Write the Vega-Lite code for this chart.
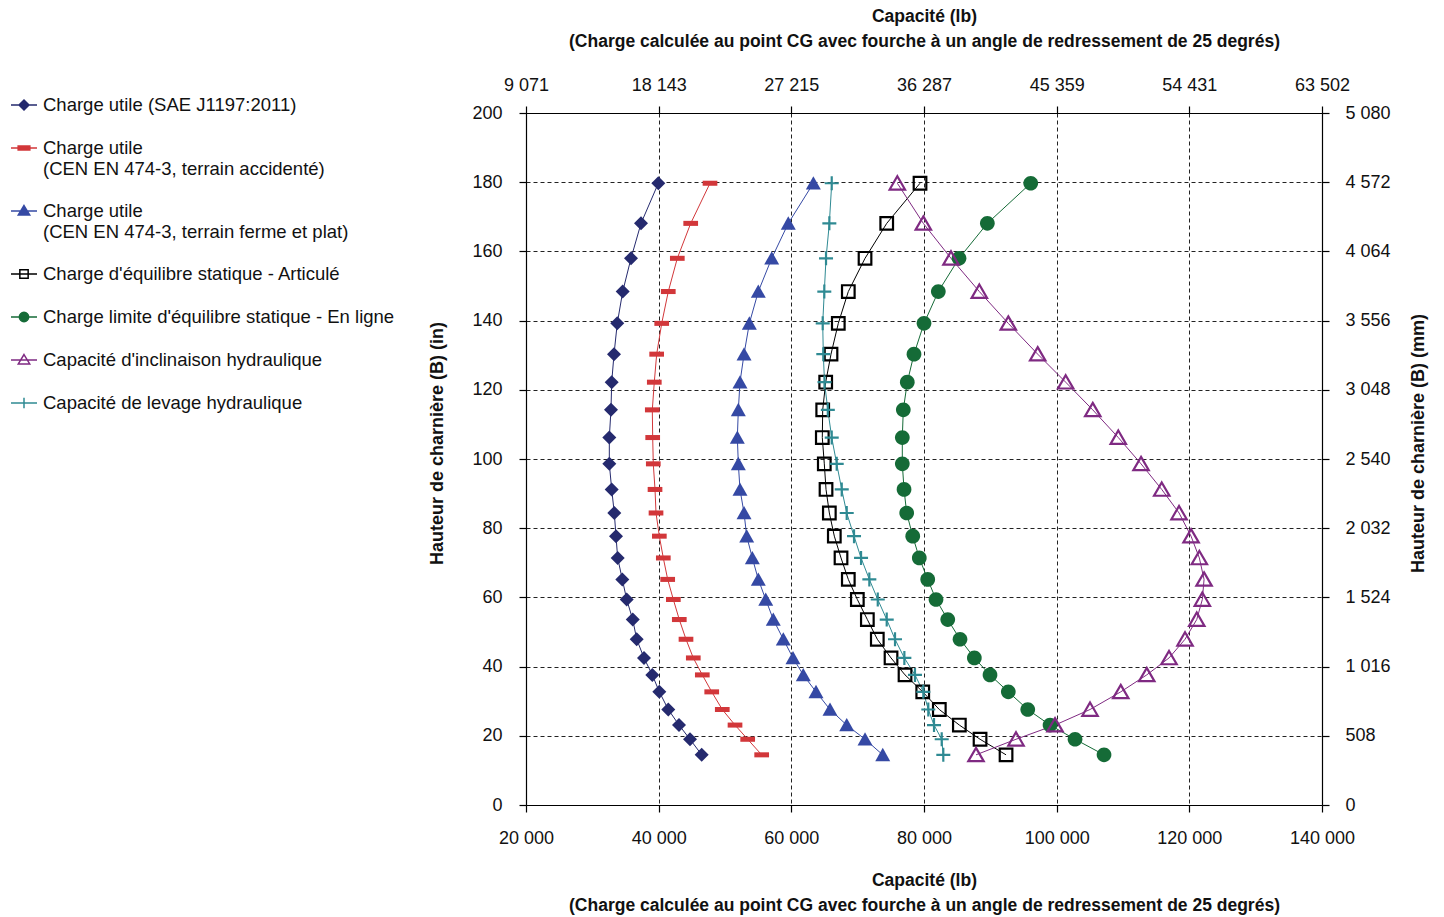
{
"$schema": "https://vega.github.io/schema/vega-lite/v6.json",
"width": 796, "height": 692,
"autosize": {"type": "none"},
"padding": {"left": 526, "top": 113, "right": 122, "bottom": 112},
"background": "white",
"config": {
  "font": "Liberation Sans, Arial, sans-serif",
  "view": {"stroke": null},
  "axis": {"domainColor": "#000", "domainWidth": 1.2, "tickColor": "#000", "tickWidth": 1.2, "tickSize": 7,
    "labelColor": "#111", "labelFontSize": 18, "labelFlush": false,
    "titleColor": "#111", "titleFontSize": 17.5, "titleFontWeight": "bold",
    "gridColor": "#222", "gridDash": [4, 3], "gridWidth": 1, "gridOpacity": 1, "labelOverlap": false}
},
"data": {"values": [
{"s":"Charge utile (SAE J1197:2011)","h":14.5,"x":46490},{"s":"Charge utile (SAE J1197:2011)","h":19,"x":44720},{"s":"Charge utile (SAE J1197:2011)","h":23.1,"x":43070},{"s":"Charge utile (SAE J1197:2011)","h":27.6,"x":41450},{"s":"Charge utile (SAE J1197:2011)","h":32.7,"x":40100},{"s":"Charge utile (SAE J1197:2011)","h":37.6,"x":39040},{"s":"Charge utile (SAE J1197:2011)","h":42.5,"x":37790},{"s":"Charge utile (SAE J1197:2011)","h":47.9,"x":36690},{"s":"Charge utile (SAE J1197:2011)","h":53.6,"x":36090},{"s":"Charge utile (SAE J1197:2011)","h":59.4,"x":35180},{"s":"Charge utile (SAE J1197:2011)","h":65.2,"x":34520},{"s":"Charge utile (SAE J1197:2011)","h":71.4,"x":33820},{"s":"Charge utile (SAE J1197:2011)","h":77.7,"x":33570},{"s":"Charge utile (SAE J1197:2011)","h":84.4,"x":33310},{"s":"Charge utile (SAE J1197:2011)","h":91.2,"x":32920},{"s":"Charge utile (SAE J1197:2011)","h":98.6,"x":32560},{"s":"Charge utile (SAE J1197:2011)","h":106.2,"x":32560},{"s":"Charge utile (SAE J1197:2011)","h":114.2,"x":32810},{"s":"Charge utile (SAE J1197:2011)","h":122.2,"x":32920},{"s":"Charge utile (SAE J1197:2011)","h":130.3,"x":33270},{"s":"Charge utile (SAE J1197:2011)","h":139.2,"x":33760},{"s":"Charge utile (SAE J1197:2011)","h":148.4,"x":34580},{"s":"Charge utile (SAE J1197:2011)","h":158,"x":35830},{"s":"Charge utile (SAE J1197:2011)","h":168.1,"x":37340},{"s":"Charge utile (SAE J1197:2011)","h":179.7,"x":39950},
{"s":"Charge utile (CEN EN 474-3, terrain accidenté)","h":14.5,"x":55530},{"s":"Charge utile (CEN EN 474-3, terrain accidenté)","h":19,"x":53420},{"s":"Charge utile (CEN EN 474-3, terrain accidenté)","h":23.1,"x":51510},{"s":"Charge utile (CEN EN 474-3, terrain accidenté)","h":27.6,"x":49590},{"s":"Charge utile (CEN EN 474-3, terrain accidenté)","h":32.7,"x":48000},{"s":"Charge utile (CEN EN 474-3, terrain accidenté)","h":37.6,"x":46580},{"s":"Charge utile (CEN EN 474-3, terrain accidenté)","h":42.5,"x":45220},{"s":"Charge utile (CEN EN 474-3, terrain accidenté)","h":47.9,"x":44120},{"s":"Charge utile (CEN EN 474-3, terrain accidenté)","h":53.6,"x":43110},{"s":"Charge utile (CEN EN 474-3, terrain accidenté)","h":59.4,"x":42210},{"s":"Charge utile (CEN EN 474-3, terrain accidenté)","h":65.2,"x":41360},{"s":"Charge utile (CEN EN 474-3, terrain accidenté)","h":71.4,"x":40700},{"s":"Charge utile (CEN EN 474-3, terrain accidenté)","h":77.7,"x":40100},{"s":"Charge utile (CEN EN 474-3, terrain accidenté)","h":84.4,"x":39600},{"s":"Charge utile (CEN EN 474-3, terrain accidenté)","h":91.2,"x":39450},{"s":"Charge utile (CEN EN 474-3, terrain accidenté)","h":98.6,"x":39190},{"s":"Charge utile (CEN EN 474-3, terrain accidenté)","h":106.2,"x":39100},{"s":"Charge utile (CEN EN 474-3, terrain accidenté)","h":114.2,"x":39040},{"s":"Charge utile (CEN EN 474-3, terrain accidenté)","h":122.2,"x":39340},{"s":"Charge utile (CEN EN 474-3, terrain accidenté)","h":130.3,"x":39700},{"s":"Charge utile (CEN EN 474-3, terrain accidenté)","h":139.2,"x":40460},{"s":"Charge utile (CEN EN 474-3, terrain accidenté)","h":148.4,"x":41450},{"s":"Charge utile (CEN EN 474-3, terrain accidenté)","h":158,"x":42810},{"s":"Charge utile (CEN EN 474-3, terrain accidenté)","h":168.1,"x":44830},{"s":"Charge utile (CEN EN 474-3, terrain accidenté)","h":179.7,"x":47740},
{"s":"Charge utile (CEN EN 474-3, terrain ferme et plat)","h":14.5,"x":73780},{"s":"Charge utile (CEN EN 474-3, terrain ferme et plat)","h":19,"x":71110},{"s":"Charge utile (CEN EN 474-3, terrain ferme et plat)","h":23.1,"x":68350},{"s":"Charge utile (CEN EN 474-3, terrain ferme et plat)","h":27.6,"x":65830},{"s":"Charge utile (CEN EN 474-3, terrain ferme et plat)","h":32.7,"x":63720},{"s":"Charge utile (CEN EN 474-3, terrain ferme et plat)","h":37.6,"x":61800},{"s":"Charge utile (CEN EN 474-3, terrain ferme et plat)","h":42.5,"x":60250},{"s":"Charge utile (CEN EN 474-3, terrain ferme et plat)","h":47.9,"x":58790},{"s":"Charge utile (CEN EN 474-3, terrain ferme et plat)","h":53.6,"x":57280},{"s":"Charge utile (CEN EN 474-3, terrain ferme et plat)","h":59.4,"x":56140},{"s":"Charge utile (CEN EN 474-3, terrain ferme et plat)","h":65.2,"x":55020},{"s":"Charge utile (CEN EN 474-3, terrain ferme et plat)","h":71.4,"x":54120},{"s":"Charge utile (CEN EN 474-3, terrain ferme et plat)","h":77.7,"x":53270},{"s":"Charge utile (CEN EN 474-3, terrain ferme et plat)","h":84.4,"x":52870},{"s":"Charge utile (CEN EN 474-3, terrain ferme et plat)","h":91.2,"x":52260},{"s":"Charge utile (CEN EN 474-3, terrain ferme et plat)","h":98.6,"x":52010},{"s":"Charge utile (CEN EN 474-3, terrain ferme et plat)","h":106.2,"x":51860},{"s":"Charge utile (CEN EN 474-3, terrain ferme et plat)","h":114.2,"x":52010},{"s":"Charge utile (CEN EN 474-3, terrain ferme et plat)","h":122.2,"x":52260},{"s":"Charge utile (CEN EN 474-3, terrain ferme et plat)","h":130.3,"x":52870},{"s":"Charge utile (CEN EN 474-3, terrain ferme et plat)","h":139.2,"x":53670},{"s":"Charge utile (CEN EN 474-3, terrain ferme et plat)","h":148.4,"x":55020},{"s":"Charge utile (CEN EN 474-3, terrain ferme et plat)","h":158,"x":57040},{"s":"Charge utile (CEN EN 474-3, terrain ferme et plat)","h":168.1,"x":59540},{"s":"Charge utile (CEN EN 474-3, terrain ferme et plat)","h":179.7,"x":63320},
{"s":"Charge d'équilibre statique - Articulé","h":14.5,"x":92370},{"s":"Charge d'équilibre statique - Articulé","h":19,"x":88450},{"s":"Charge d'équilibre statique - Articulé","h":23.1,"x":85330},{"s":"Charge d'équilibre statique - Articulé","h":27.6,"x":82310},{"s":"Charge d'équilibre statique - Articulé","h":32.7,"x":79810},{"s":"Charge d'équilibre statique - Articulé","h":37.6,"x":77140},{"s":"Charge d'équilibre statique - Articulé","h":42.5,"x":75030},{"s":"Charge d'équilibre statique - Articulé","h":47.9,"x":72960},{"s":"Charge d'équilibre statique - Articulé","h":53.6,"x":71460},{"s":"Charge d'équilibre statique - Articulé","h":59.4,"x":69950},{"s":"Charge d'équilibre statique - Articulé","h":65.2,"x":68590},{"s":"Charge d'équilibre statique - Articulé","h":71.4,"x":67490},{"s":"Charge d'équilibre statique - Articulé","h":77.7,"x":66480},{"s":"Charge d'équilibre statique - Articulé","h":84.4,"x":65730},{"s":"Charge d'équilibre statique - Articulé","h":91.2,"x":65230},{"s":"Charge d'équilibre statique - Articulé","h":98.6,"x":64970},{"s":"Charge d'équilibre statique - Articulé","h":106.2,"x":64670},{"s":"Charge d'équilibre statique - Articulé","h":114.2,"x":64730},{"s":"Charge d'équilibre statique - Articulé","h":122.2,"x":65180},{"s":"Charge d'équilibre statique - Articulé","h":130.3,"x":65980},{"s":"Charge d'équilibre statique - Articulé","h":139.2,"x":67080},{"s":"Charge d'équilibre statique - Articulé","h":148.4,"x":68590},{"s":"Charge d'équilibre statique - Articulé","h":158,"x":71110},{"s":"Charge d'équilibre statique - Articulé","h":168.1,"x":74380},{"s":"Charge d'équilibre statique - Articulé","h":179.7,"x":79400},
{"s":"Charge limite d'équilibre statique - En ligne","h":14.5,"x":107140},{"s":"Charge limite d'équilibre statique - En ligne","h":19,"x":102770},{"s":"Charge limite d'équilibre statique - En ligne","h":23.1,"x":99000},{"s":"Charge limite d'équilibre statique - En ligne","h":27.6,"x":95640},{"s":"Charge limite d'équilibre statique - En ligne","h":32.7,"x":92710},{"s":"Charge limite d'équilibre statique - En ligne","h":37.6,"x":89950},{"s":"Charge limite d'équilibre statique - En ligne","h":42.5,"x":87590},{"s":"Charge limite d'équilibre statique - En ligne","h":47.9,"x":85430},{"s":"Charge limite d'équilibre statique - En ligne","h":53.6,"x":83580},{"s":"Charge limite d'équilibre statique - En ligne","h":59.4,"x":81810},{"s":"Charge limite d'équilibre statique - En ligne","h":65.2,"x":80560},{"s":"Charge limite d'équilibre statique - En ligne","h":71.4,"x":79290},{"s":"Charge limite d'équilibre statique - En ligne","h":77.7,"x":78300},{"s":"Charge limite d'équilibre statique - En ligne","h":84.4,"x":77390},{"s":"Charge limite d'équilibre statique - En ligne","h":91.2,"x":76990},{"s":"Charge limite d'équilibre statique - En ligne","h":98.6,"x":76730},{"s":"Charge limite d'équilibre statique - En ligne","h":106.2,"x":76730},{"s":"Charge limite d'équilibre statique - En ligne","h":114.2,"x":76880},{"s":"Charge limite d'équilibre statique - En ligne","h":122.2,"x":77480},{"s":"Charge limite d'équilibre statique - En ligne","h":130.3,"x":78490},{"s":"Charge limite d'équilibre statique - En ligne","h":139.2,"x":80000},{"s":"Charge limite d'équilibre statique - En ligne","h":148.4,"x":82160},{"s":"Charge limite d'équilibre statique - En ligne","h":158,"x":85280},{"s":"Charge limite d'équilibre statique - En ligne","h":168.1,"x":89550},{"s":"Charge limite d'équilibre statique - En ligne","h":179.7,"x":96090},
{"s":"Capacité d'inclinaison hydraulique","h":14.5,"x":87840},{"s":"Capacité d'inclinaison hydraulique","h":19,"x":93870},{"s":"Capacité d'inclinaison hydraulique","h":23.1,"x":99750},{"s":"Capacité d'inclinaison hydraulique","h":27.6,"x":105030},{"s":"Capacité d'inclinaison hydraulique","h":32.7,"x":109660},{"s":"Capacité d'inclinaison hydraulique","h":37.6,"x":113580},{"s":"Capacité d'inclinaison hydraulique","h":42.5,"x":116940},{"s":"Capacité d'inclinaison hydraulique","h":47.9,"x":119350},{"s":"Capacité d'inclinaison hydraulique","h":53.6,"x":121120},{"s":"Capacité d'inclinaison hydraulique","h":59.4,"x":121960},{"s":"Capacité d'inclinaison hydraulique","h":65.2,"x":122220},{"s":"Capacité d'inclinaison hydraulique","h":71.4,"x":121510},{"s":"Capacité d'inclinaison hydraulique","h":77.7,"x":120260},{"s":"Capacité d'inclinaison hydraulique","h":84.4,"x":118450},{"s":"Capacité d'inclinaison hydraulique","h":91.2,"x":115840},{"s":"Capacité d'inclinaison hydraulique","h":98.6,"x":112720},{"s":"Capacité d'inclinaison hydraulique","h":106.2,"x":109290},{"s":"Capacité d'inclinaison hydraulique","h":114.2,"x":105440},{"s":"Capacité d'inclinaison hydraulique","h":122.2,"x":101360},{"s":"Capacité d'inclinaison hydraulique","h":130.3,"x":97140},{"s":"Capacité d'inclinaison hydraulique","h":139.2,"x":92710},{"s":"Capacité d'inclinaison hydraulique","h":148.4,"x":88340},{"s":"Capacité d'inclinaison hydraulique","h":158,"x":84070},{"s":"Capacité d'inclinaison hydraulique","h":168.1,"x":79900},{"s":"Capacité d'inclinaison hydraulique","h":179.7,"x":75980},
{"s":"Capacité de levage hydraulique","h":14.5,"x":82910},{"s":"Capacité de levage hydraulique","h":19,"x":82670},{"s":"Capacité de levage hydraulique","h":23.1,"x":81510},{"s":"Capacité de levage hydraulique","h":27.6,"x":80650},{"s":"Capacité de levage hydraulique","h":32.7,"x":79900},{"s":"Capacité de levage hydraulique","h":37.6,"x":78640},{"s":"Capacité de levage hydraulique","h":42.5,"x":77040},{"s":"Capacité de levage hydraulique","h":47.9,"x":75630},{"s":"Capacité de levage hydraulique","h":53.6,"x":74380},{"s":"Capacité de levage hydraulique","h":59.4,"x":73030},{"s":"Capacité de levage hydraulique","h":65.2,"x":71760},{"s":"Capacité de levage hydraulique","h":71.4,"x":70510},{"s":"Capacité de levage hydraulique","h":77.7,"x":69450},{"s":"Capacité de levage hydraulique","h":84.4,"x":68350},{"s":"Capacité de levage hydraulique","h":91.2,"x":67600},{"s":"Capacité de levage hydraulique","h":98.6,"x":66840},{"s":"Capacité de levage hydraulique","h":106.2,"x":66090},{"s":"Capacité de levage hydraulique","h":114.2,"x":65500},{"s":"Capacité de levage hydraulique","h":122.2,"x":65000},{"s":"Capacité de levage hydraulique","h":130.3,"x":64820},{"s":"Capacité de levage hydraulique","h":139.2,"x":64730},{"s":"Capacité de levage hydraulique","h":148.4,"x":64970},{"s":"Capacité de levage hydraulique","h":158,"x":65230},{"s":"Capacité de levage hydraulique","h":168.1,"x":65730},{"s":"Capacité de levage hydraulique","h":179.7,"x":66090}
]},
"layer": [
  {
    "encoding": {
      "x": {"field": "x", "type": "quantitative", "scale": {"domain": [20000, 140000], "nice": false, "zero": false},
        "axis": {"orient": "bottom", "values": [20000, 40000, 60000, 80000, 100000, 120000, 140000], "grid": true,
          "labelExpr": "replace(format(datum.value, ','), ',', ' ')", "labelPadding": 17,
          "title": ["Capacité (lb)", "(Charge calculée au point CG avec fourche à un angle de redressement de 25 degrés)"],
          "titleLineHeight": 25, "titleBaseline": "top", "titleY": 66}},
      "y": {"field": "h", "type": "quantitative", "scale": {"domain": [0, 200], "nice": false},
        "axis": {"orient": "left", "values": [0, 20, 40, 60, 80, 100, 120, 140, 160, 180, 200], "grid": true,
          "labelPadding": 17, "title": "Hauteur de charnière (B) (in)", "titleFontSize": 18,
          "titleAngle": 270, "titleAlign": "center", "titleBaseline": "middle", "titleX": -89, "titleY": 330}}
    },
    "layer": [
      {"mark": {"type": "line", "strokeWidth": 1},
       "encoding": {
         "color": {"field": "s", "type": "nominal", "legend": null,
           "scale": {"domain": ["Charge utile (SAE J1197:2011)", "Charge utile (CEN EN 474-3, terrain accidenté)", "Charge utile (CEN EN 474-3, terrain ferme et plat)", "Charge d'équilibre statique - Articulé", "Charge limite d'équilibre statique - En ligne", "Capacité d'inclinaison hydraulique", "Capacité de levage hydraulique"],
             "range": ["#252A6E", "#D2373A", "#3549A4", "#000000", "#156B37", "#7F2A82", "#2F8A93"]}},
         "order": {"field": "h", "type": "quantitative"}
       }},
      {"mark": {"type": "point", "size": 196, "strokeWidth": 2.2, "opacity": 1},
       "encoding": {
         "shape": {"field": "s", "type": "nominal", "legend": null,
           "scale": {"domain": ["Charge utile (SAE J1197:2011)", "Charge utile (CEN EN 474-3, terrain accidenté)", "Charge utile (CEN EN 474-3, terrain ferme et plat)", "Charge d'équilibre statique - Articulé", "Charge limite d'équilibre statique - En ligne", "Capacité d'inclinaison hydraulique", "Capacité de levage hydraulique"],
             "range": ["M0,-1L1,0L0,1L-1,0Z", "M-1.05,-0.36H1.05V0.36H-1.05Z", "M0,-1L1.07,0.9L-1.07,0.9Z", "M-0.9,-0.9H0.9V0.9H-0.9Z", "M1.05,0A1.05,1.05,0,1,1,-1.05,0A1.05,1.05,0,1,1,1.05,0Z", "M0,-1L1.1,0.9L-1.1,0.9Z", "M-1,0H1M0,-1V1"]}},
         "fill": {"field": "s", "type": "nominal", "legend": null,
           "scale": {"domain": ["Charge utile (SAE J1197:2011)", "Charge utile (CEN EN 474-3, terrain accidenté)", "Charge utile (CEN EN 474-3, terrain ferme et plat)", "Charge d'équilibre statique - Articulé", "Charge limite d'équilibre statique - En ligne", "Capacité d'inclinaison hydraulique", "Capacité de levage hydraulique"],
             "range": ["#252A6E", "#D2373A", "#3549A4", "transparent", "#156B37", "transparent", "transparent"]}},
         "stroke": {"field": "s", "type": "nominal", "legend": null,
           "scale": {"domain": ["Charge utile (SAE J1197:2011)", "Charge utile (CEN EN 474-3, terrain accidenté)", "Charge utile (CEN EN 474-3, terrain ferme et plat)", "Charge d'équilibre statique - Articulé", "Charge limite d'équilibre statique - En ligne", "Capacité d'inclinaison hydraulique", "Capacité de levage hydraulique"],
             "range": ["transparent", "transparent", "transparent", "#000000", "transparent", "#7F2A82", "#2F8A93"]}}
       }}
    ]
  },
  {
    "transform": [{"filter": "datum.h < 0"}],
    "mark": {"type": "point", "size": 676, "strokeWidth": 1.5, "opacity": 1},
    "encoding": {
      "x": {"field": "x", "type": "quantitative", "scale": {"domain": [20000, 140000], "nice": false, "zero": false},
        "axis": {"orient": "top", "values": [20000, 40000, 60000, 80000, 100000, 120000, 140000], "grid": false,
          "labelExpr": "replace(format(floor(datum.value * 0.45359237), ','), ',', ' ')", "labelPadding": 12,
          "title": ["Capacité (lb)", "(Charge calculée au point CG avec fourche à un angle de redressement de 25 degrés)"],
          "titleLineHeight": 25, "titleBaseline": "bottom", "titleY": -88}},
      "y": {"field": "h", "type": "quantitative", "scale": {"domain": [0, 200], "nice": false},
        "axis": {"orient": "right", "values": [0, 20, 40, 60, 80, 100, 120, 140, 160, 180, 200], "grid": false,
          "labelExpr": "replace(format(round(datum.value * 25.4), ','), ',', ' ')", "labelPadding": 16,
          "title": "Hauteur de charnière (B) (mm)", "titleFontSize": 18,
          "titleAngle": 270, "titleAlign": "center", "titleBaseline": "middle", "titleX": 96, "titleY": 330}},
      "shape": {"field": "s", "type": "nominal",
        "scale": {"domain": ["Charge utile (SAE J1197:2011)", "Charge utile (CEN EN 474-3, terrain accidenté)", "Charge utile (CEN EN 474-3, terrain ferme et plat)", "Charge d'équilibre statique - Articulé", "Charge limite d'équilibre statique - En ligne", "Capacité d'inclinaison hydraulique", "Capacité de levage hydraulique"],
          "range": ["M-1,0H1M0,-0.38L0.38,0L0,0.38L-0.38,0Z", "M-1,0H1M-0.45,-0.15H0.45V0.15H-0.45Z", "M-1,0H1M0,-0.42L0.44,0.3L-0.44,0.3Z", "M-1,0H1M-0.32,-0.32H0.32V0.32H-0.32Z", "M-1,0H1M0.36,0A0.36,0.36,0,1,1,-0.36,0A0.36,0.36,0,1,1,0.36,0Z", "M-1,0H1M0,-0.42L0.44,0.3L-0.44,0.3Z", "M-1,0H1M0,-0.4V0.4"]},
        "legend": {"orient": "none", "legendX": -516, "legendY": -22, "title": null, "padding": 0,
          "symbolSize": 676, "symbolStrokeWidth": 1.5, "labelFontSize": 18.5, "labelColor": "#111",
          "labelLimit": 500, "labelOffset": 5, "rowPadding": 19,
          "labelExpr": "indexof(datum.label, 'CEN') > 0 ? ['Charge utile', substring(datum.label, 13)] : datum.label"}},
      "fill": {"field": "s", "type": "nominal",
        "scale": {"domain": ["Charge utile (SAE J1197:2011)", "Charge utile (CEN EN 474-3, terrain accidenté)", "Charge utile (CEN EN 474-3, terrain ferme et plat)", "Charge d'équilibre statique - Articulé", "Charge limite d'équilibre statique - En ligne", "Capacité d'inclinaison hydraulique", "Capacité de levage hydraulique"],
          "range": ["#252A6E", "#D2373A", "#3549A4", "transparent", "#156B37", "transparent", "transparent"]}},
      "stroke": {"field": "s", "type": "nominal",
        "scale": {"domain": ["Charge utile (SAE J1197:2011)", "Charge utile (CEN EN 474-3, terrain accidenté)", "Charge utile (CEN EN 474-3, terrain ferme et plat)", "Charge d'équilibre statique - Articulé", "Charge limite d'équilibre statique - En ligne", "Capacité d'inclinaison hydraulique", "Capacité de levage hydraulique"],
          "range": ["#252A6E", "#D2373A", "#3549A4", "#000000", "#156B37", "#7F2A82", "#2F8A93"]}}
    }
  }
],
"resolve": {"scale": {"x": "independent", "y": "independent", "shape": "independent", "fill": "independent", "stroke": "independent"}}
}
